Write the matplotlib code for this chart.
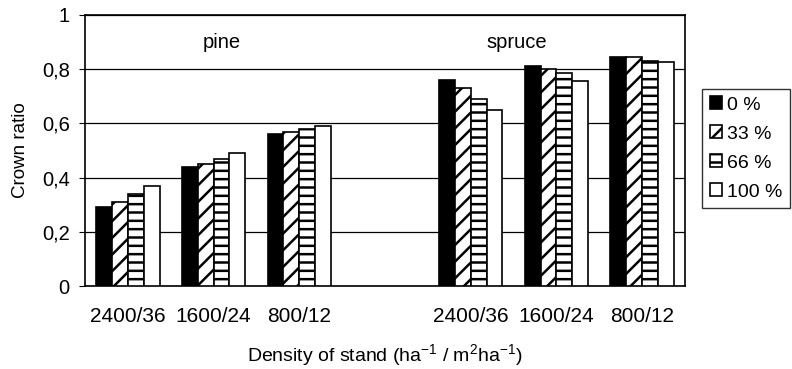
import numpy as np
import matplotlib.pyplot as plt
from matplotlib.ticker import FuncFormatter

plt.rcParams['font.family'] = ['Liberation Sans', 'DejaVu Sans']
plt.rcParams['mathtext.fontset'] = 'custom'
plt.rcParams['mathtext.rm'] = 'Liberation Sans'
plt.rcParams['hatch.linewidth'] = 1.8

# stand densities; the empty slot separates pine and spruce
categories = ['2400/36', '1600/24', '800/12', '', '2400/36', '1600/24', '800/12']
series = ['0 %', '33 %', '66 %', '100 %']
v0 = [0.29, 0.44, 0.56, np.nan, 0.76, 0.81, 0.845]
v33 = [0.31, 0.45, 0.57, np.nan, 0.73, 0.80, 0.845]
v66 = [0.34, 0.47, 0.58, np.nan, 0.69, 0.785, 0.83]
v100 = [0.37, 0.49, 0.59, np.nan, 0.65, 0.755, 0.825]
species = ['pine', 'spruce']

values = [v0, v33, v66, v100]
faces = ['black', 'white', 'white', 'white']
hatches = [None, '//', '--', None]

fig = plt.figure(figsize=(7.92, 3.69), dpi=100)
ax = fig.add_axes([85 / 792, 1 - 286 / 369, 600 / 792, 271 / 369])

x = np.arange(len(categories))
w = 0.185
for k, (vals, fc, h, lab) in enumerate(zip(values, faces, hatches, series)):
    ax.bar(x + (k - 1.5) * w, vals, w, color=fc, edgecolor='black',
           hatch=h, linewidth=1.2, label=lab, zorder=3)

ax.set_xlim(-0.5, len(categories) - 0.5)
ax.set_ylim(0, 1)
ax.set_yticks(np.arange(0, 1.01, 0.2))
ax.yaxis.set_major_formatter(FuncFormatter(lambda v, p: ('%g' % round(v, 1)).replace('.', ',')))
ax.set_xticks(x)
ax.set_xticklabels(categories)
ax.tick_params(axis='x', length=0, pad=15, labelsize=15)
ax.tick_params(axis='y', length=4, pad=7, labelsize=14.5)
ax.grid(axis='y', color='black', linewidth=0.9, zorder=0)
for s in ax.spines.values():
    s.set_linewidth(1.2)

ax.text(1.09, 0.9, species[0], ha='center', va='center', fontsize=14.5)
ax.text(4.54, 0.9, species[1], ha='center', va='center', fontsize=14.5)

ax.set_ylabel('Crown ratio', fontsize=13.5, labelpad=9)
ax.set_xlabel('Density of stand (ha$^{\\mathregular{-1}}$ / m$^{\\mathregular{2}}$ha$^{\\mathregular{-1}}$)',
              fontsize=14, labelpad=12)

fig.legend(loc='center left', bbox_to_anchor=(702 / 792, 1 - 148.5 / 369),
           fontsize=14, frameon=True, fancybox=False, edgecolor='black',
           handlelength=0.65, handleheight=0.65, handletextpad=0.25,
           borderpad=0.4, labelspacing=0.6, borderaxespad=0)

fig.savefig('out.png', dpi=100)
